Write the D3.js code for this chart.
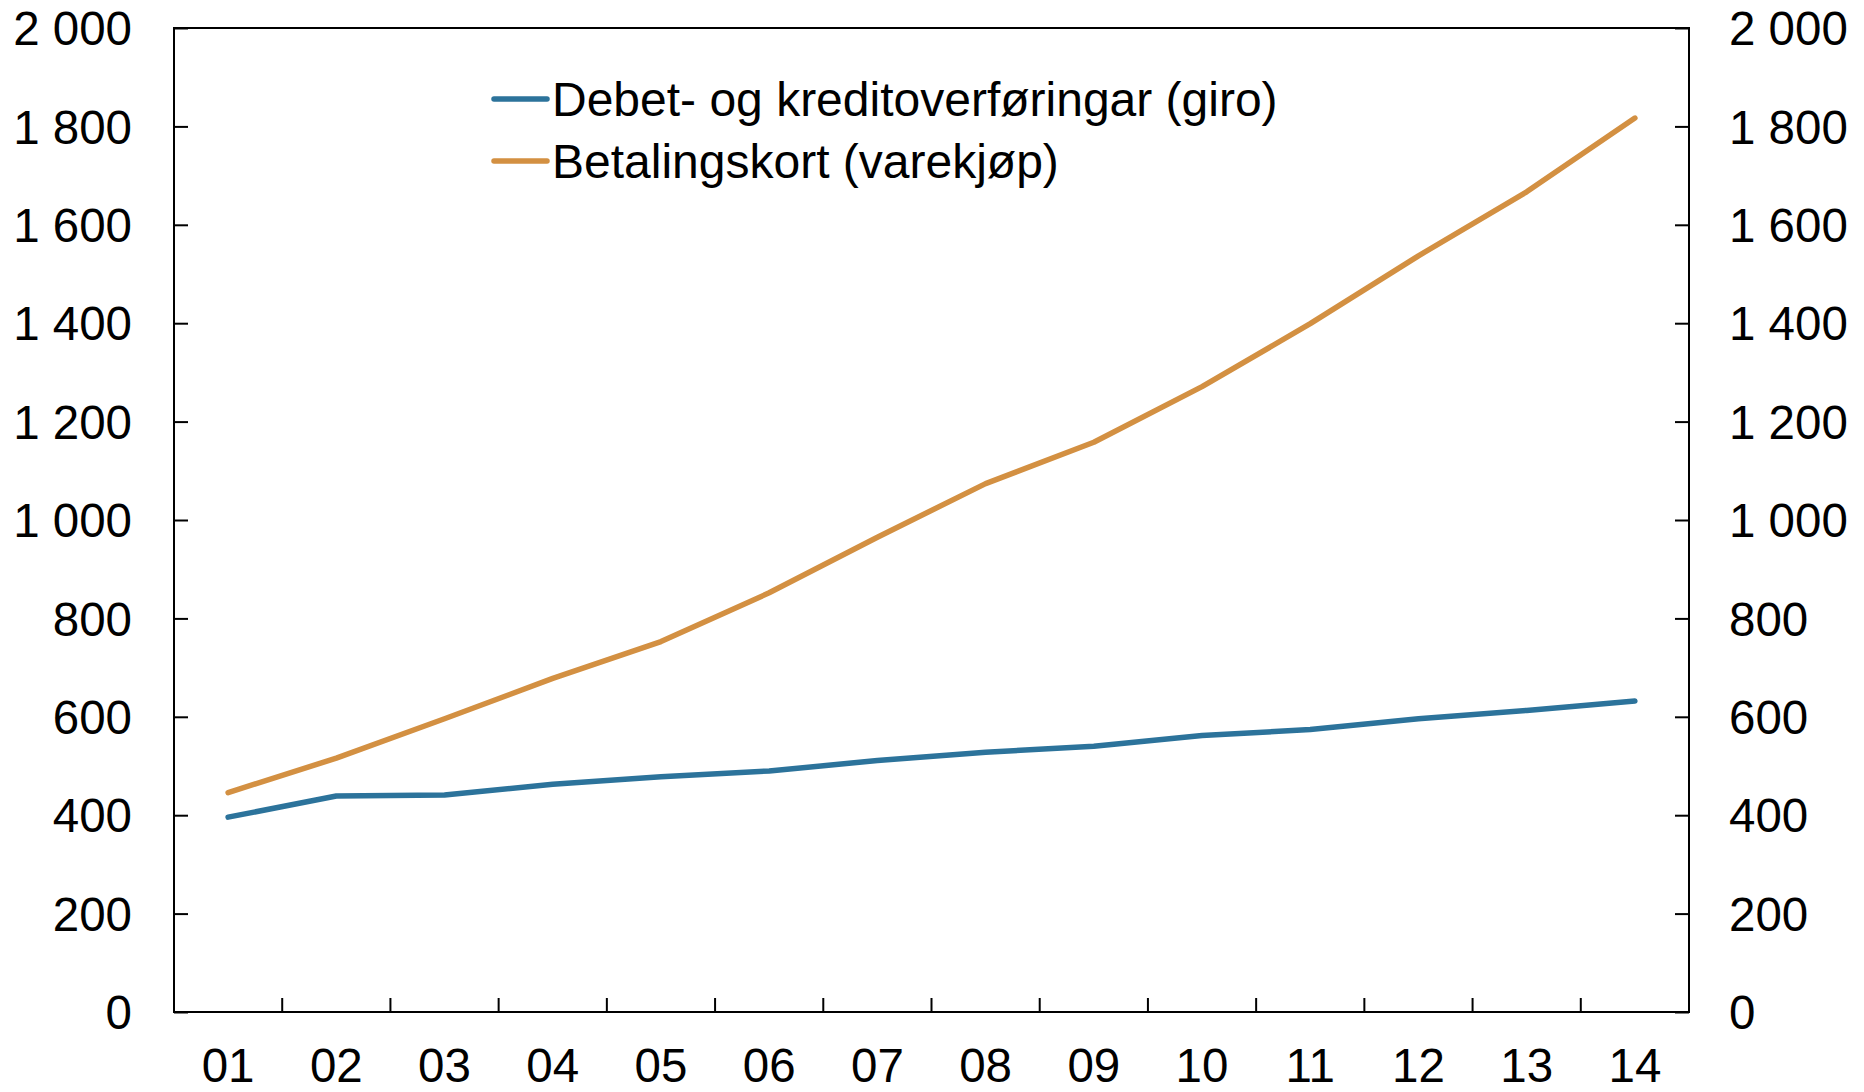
<!DOCTYPE html>
<html>
<head>
  <meta charset="UTF-8">
  <title>Giro og betalingskort</title>
  <style>
    body{
        margin: 0;
        background-color: #ffffff;
    }
    text{
        font-family: "Liberation Sans", Arial, sans-serif;
        fill: #000;
    }
  </style>
</head>
<body>
<svg></svg>
<script src="https://d3js.org/d3.v7.min.js"></script>

<script>

// data
let years = ["01","02","03","04","05","06","07","08","09","10","11","12","13","14"];
let giro = [396, 439, 441, 463, 478, 490, 511, 528, 540, 562, 574, 596, 613, 632];
let kort = [446, 516, 596, 678, 753, 852, 965, 1074, 1158, 1271, 1399, 1537, 1667, 1817];
let yTicks = [0, 200, 400, 600, 800, 1000, 1200, 1400, 1600, 1800, 2000];
let seriesNames = ["Debet- og kreditoverføringar (giro)", "Betalingskort (varekjøp)"];
let seriesColors = ["#2c739b", "#d39042"];

let width = 1864, height = 1092;
let margin = {top: 28, right: 175, bottom: 80, left: 174};

let svg = d3.select("svg")
    .attr("width", width)
    .attr("height", height);

let x = d3.scaleBand()
    .domain(years)
    .range([margin.left, width - margin.right]);

let y = d3.scaleLinear()
    .domain([0, 2000])
    .range([height - margin.bottom, margin.top]);

let fmt = d => d3.format(",")(d).replace(",", " ");

// frame
svg.append("rect")
    .attr("x", margin.left)
    .attr("y", margin.top)
    .attr("width", width - margin.right - margin.left)
    .attr("height", height - margin.bottom - margin.top)
    .attr("fill", "none")
    .attr("stroke", "#000")
    .attr("stroke-width", 2);

// y axes, ticks pointing inwards
let yl = svg.append("g")
    .attr("transform", "translate(" + margin.left + ",0)")
    .call(d3.axisRight(y).tickValues(yTicks).tickSize(14).tickFormat(""));
yl.select(".domain").remove();
yl.selectAll("line").attr("stroke-width", 2);

let yr = svg.append("g")
    .attr("transform", "translate(" + (width - margin.right) + ",0)")
    .call(d3.axisLeft(y).tickValues(yTicks).tickSize(14).tickFormat(""));
yr.select(".domain").remove();
yr.selectAll("line").attr("stroke-width", 2);

// y labels
svg.append("g").selectAll("text")
    .data(yTicks)
    .enter().append("text")
    .attr("x", margin.left - 42)
    .attr("y", d => y(d))
    .attr("dy", "0.36em")
    .attr("text-anchor", "end")
    .attr("font-size", 47.5)
    .text(fmt);

svg.append("g").selectAll("text")
    .data(yTicks)
    .enter().append("text")
    .attr("x", width - margin.right + 40)
    .attr("y", d => y(d))
    .attr("dy", "0.36em")
    .attr("text-anchor", "start")
    .attr("font-size", 47.5)
    .text(fmt);

// x ticks between the years
svg.append("g").selectAll("line")
    .data(years.slice(1))
    .enter().append("line")
    .attr("x1", d => x(d))
    .attr("x2", d => x(d))
    .attr("y1", y(0))
    .attr("y2", y(0) - 14)
    .attr("stroke", "#000")
    .attr("stroke-width", 2);

svg.append("g").selectAll("text")
    .data(years)
    .enter().append("text")
    .attr("x", d => x(d) + x.bandwidth() / 2)
    .attr("y", 1082)
    .attr("text-anchor", "middle")
    .attr("font-size", 47.5)
    .text(d => d);

// lines
let line = d3.line()
    .x((d, i) => x(years[i]) + x.bandwidth() / 2)
    .y(d => y(d));

[giro, kort].forEach((s, i) => {
    svg.append("path")
        .datum(s)
        .attr("d", line)
        .attr("fill", "none")
        .attr("stroke", seriesColors[i])
        .attr("stroke-width", 5.5)
        .attr("stroke-linecap", "round")
        .attr("stroke-linejoin", "round");
});

// legend
let lg = svg.append("g");
seriesNames.forEach((name, i) => {
    let ly = 99 + i * 62;
    lg.append("line")
        .attr("x1", 494)
        .attr("x2", 547)
        .attr("y1", ly)
        .attr("y2", ly)
        .attr("stroke", seriesColors[i])
        .attr("stroke-width", 5.5)
        .attr("stroke-linecap", "round");
    lg.append("text")
        .attr("x", 552)
        .attr("y", ly)
        .attr("dy", "0.36em")
        .attr("font-size", 48)
        .text(name);
});

</script>

</body>
</html>
